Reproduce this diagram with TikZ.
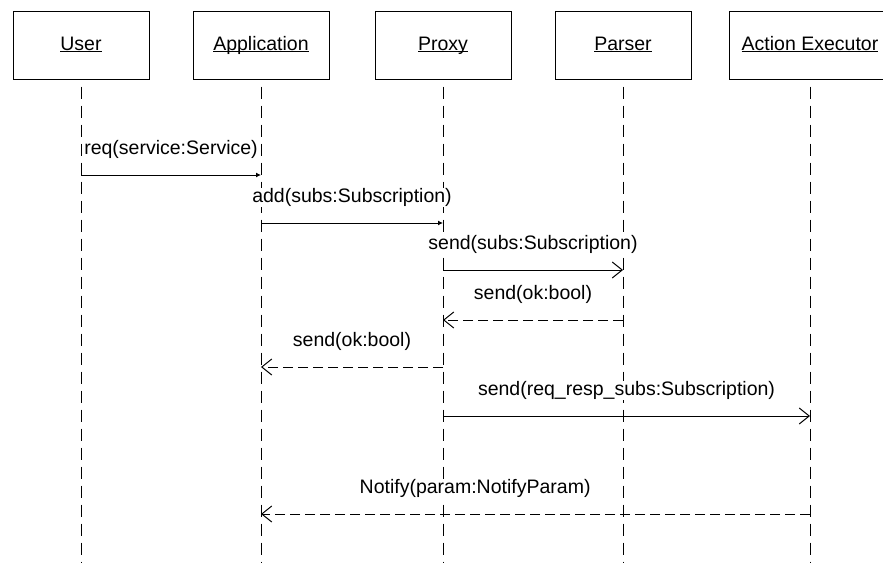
\documentclass[tikz,border=0pt]{standalone}
\usepackage{fontspec}
\setmainfont{Liberation Sans}
\usetikzlibrary{positioning, arrows.meta}

\newcommand{\objname}[1]{\underline{\smash{#1}}}

\begin{document}
\begin{tikzpicture}[
    x=1pt, y=-1pt,
    on grid,
    font=\fontsize{19.5}{22}\selectfont,
    line width=1pt,
    object/.style={draw, minimum width=136pt, minimum height=68pt, inner sep=0pt,
        text height=14pt, text depth=4pt},
    lifeline/.style={dash pattern=on 12pt off 7pt, dash phase=-7pt},
    call/.style={-{Latex[length=5pt,width=5pt]}},
    msg/.style={-{Straight Barb[length=10pt,width=16pt]}},
    reply/.style={msg, dash pattern=on 10pt off 5pt},
    lbl/.style={above=16pt, inner sep=0pt, fill=white}
]
    \useasboundingbox (0,0) rectangle (883,562);
    \clip (0,0) rectangle (883,562);

    % Define nodes
    \node[object] (user) at (81,45) {\objname{User}};
    \node[object, right=180pt of user] (app) {\objname{Application}};
    \node[object, right=182pt of app] (proxy) {\objname{Proxy}};
    \node[object, right=180pt of proxy] (parser) {\objname{Parser}};
    \node[object, right=187pt of parser, minimum width=162pt] (exec) {\objname{Action Executor}};

    % Lifelines
    \coordinate (bottom) at (0,562);
    \foreach \obj in {user, app, proxy, parser, exec}
        \draw[lifeline] (\obj.south) -- (\obj.south |- bottom);

    % Message rows
    \coordinate (m1) at (0,175);
    \coordinate (m2) at (0,223);
    \coordinate (m3) at (0,270);
    \coordinate (m4) at (0,320);
    \coordinate (m5) at (0,367);
    \coordinate (m6) at (0,416);
    \coordinate (m7) at (0,514);

    % Messages
    \draw[call] (user |- m1) -- node[lbl] {req(service:Service)} (app |- m1);
    \draw[call] (app |- m2) -- node[lbl] {add(subs:Subscription)} (proxy |- m2);
    \draw[msg] (proxy |- m3) -- node[lbl] {send(subs:Subscription)} (parser |- m3);
    \draw[reply] (parser |- m4) -- node[lbl] {send(ok:bool)} (proxy |- m4);
    \draw[reply] (proxy |- m5) -- node[lbl] {send(ok:bool)} (app |- m5);
    \draw[msg] (proxy |- m6) -- node[lbl] {send(req\_resp\_subs:Subscription)} (exec |- m6);
    \draw[reply] (exec |- m7) -- node[lbl, pos=0.61] {Notify(param:NotifyParam)} (app |- m7);
\end{tikzpicture}
\end{document}
